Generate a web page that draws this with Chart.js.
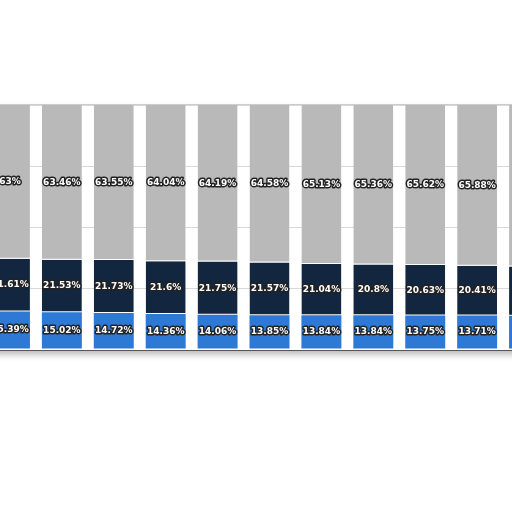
<!DOCTYPE html>
<html><head><meta charset="utf-8">
<script src="https://cdn.jsdelivr.net/npm/chart.js@4/dist/chart.umd.min.js"></script>
<style>
html,body{margin:0;padding:0;width:512px;height:512px;overflow:hidden;background:#fff;}
#frame{position:absolute;left:-20px;top:104px;width:580px;height:245px;border-top:1px solid #ccc;border-bottom:1px solid #555;box-shadow:0 4px 6px rgba(0,0,0,0.25);}
#wrap{position:absolute;left:-16px;top:105px;width:571px;height:244px;}
</style></head><body>
<div id="frame"></div>
<div id="wrap"><canvas id="c"></canvas></div>
<script>
const categories = ["1","2","3","4","5","6","7","8","9","10","11"];
const blueValues = [15.39,15.02,14.72,14.36,14.06,13.85,13.84,13.84,13.75,13.71,13.6];
const navyValues = [21.61,21.53,21.73,21.6,21.75,21.57,21.04,20.8,20.63,20.41,20.2];
const grayValues = [63,63.46,63.55,64.04,64.19,64.58,65.13,65.36,65.62,65.88,66.2];

const labelPlugin = {
  id:'lbl',
  afterDatasetsDraw(chart){
    const ctx = chart.ctx;
    ctx.save();
    ctx.font = 'bold 9px "DejaVu Sans", sans-serif';
    ctx.textAlign='center'; ctx.textBaseline='middle';
    ctx.lineJoin='round';
    chart.data.datasets.forEach((ds,i)=>{
      chart.getDatasetMeta(i).data.forEach((bar,j)=>{
        const p = bar.getProps(['x','y','base'],true);
        const t = ds.data[j]+'%';
        const y = (p.y+p.base)/2;
        ctx.lineWidth=3; ctx.strokeStyle='#222';
        ctx.strokeText(t,p.x,y);
        ctx.fillStyle='#fff'; ctx.fillText(t,p.x,y);
      });
    });
    ctx.restore();
  }
};

new Chart(document.getElementById('c'),{
  type:'bar',
  data:{labels:categories,datasets:[
    {data:blueValues,backgroundColor:'#2e78d6',borderWidth:0},
    {data:navyValues,backgroundColor:'#13263f',borderColor:'#ffffff',borderWidth:{top:0,bottom:1,left:0,right:0},borderSkipped:false},
    {data:grayValues,backgroundColor:'#b9b9b9',borderColor:'#ffffff',borderWidth:{top:0,bottom:1,left:0,right:0},borderSkipped:false}
  ]},
  options:{
    responsive:true,maintainAspectRatio:false,animation:false,
    layout:{padding:0},
    plugins:{legend:{display:false},tooltip:{enabled:false}},
    datasets:{bar:{barPercentage:1,categoryPercentage:0.77}},
    scales:{
      x:{stacked:true,display:false},
      y:{stacked:true,min:0,max:100,ticks:{display:false,stepSize:25},border:{display:false},
         grid:{color:'#d8d8d8',lineWidth:1,drawTicks:false},afterFit:s=>{s.width=0;}}
    }
  },
  plugins:[labelPlugin]
});
</script>
</body></html>
